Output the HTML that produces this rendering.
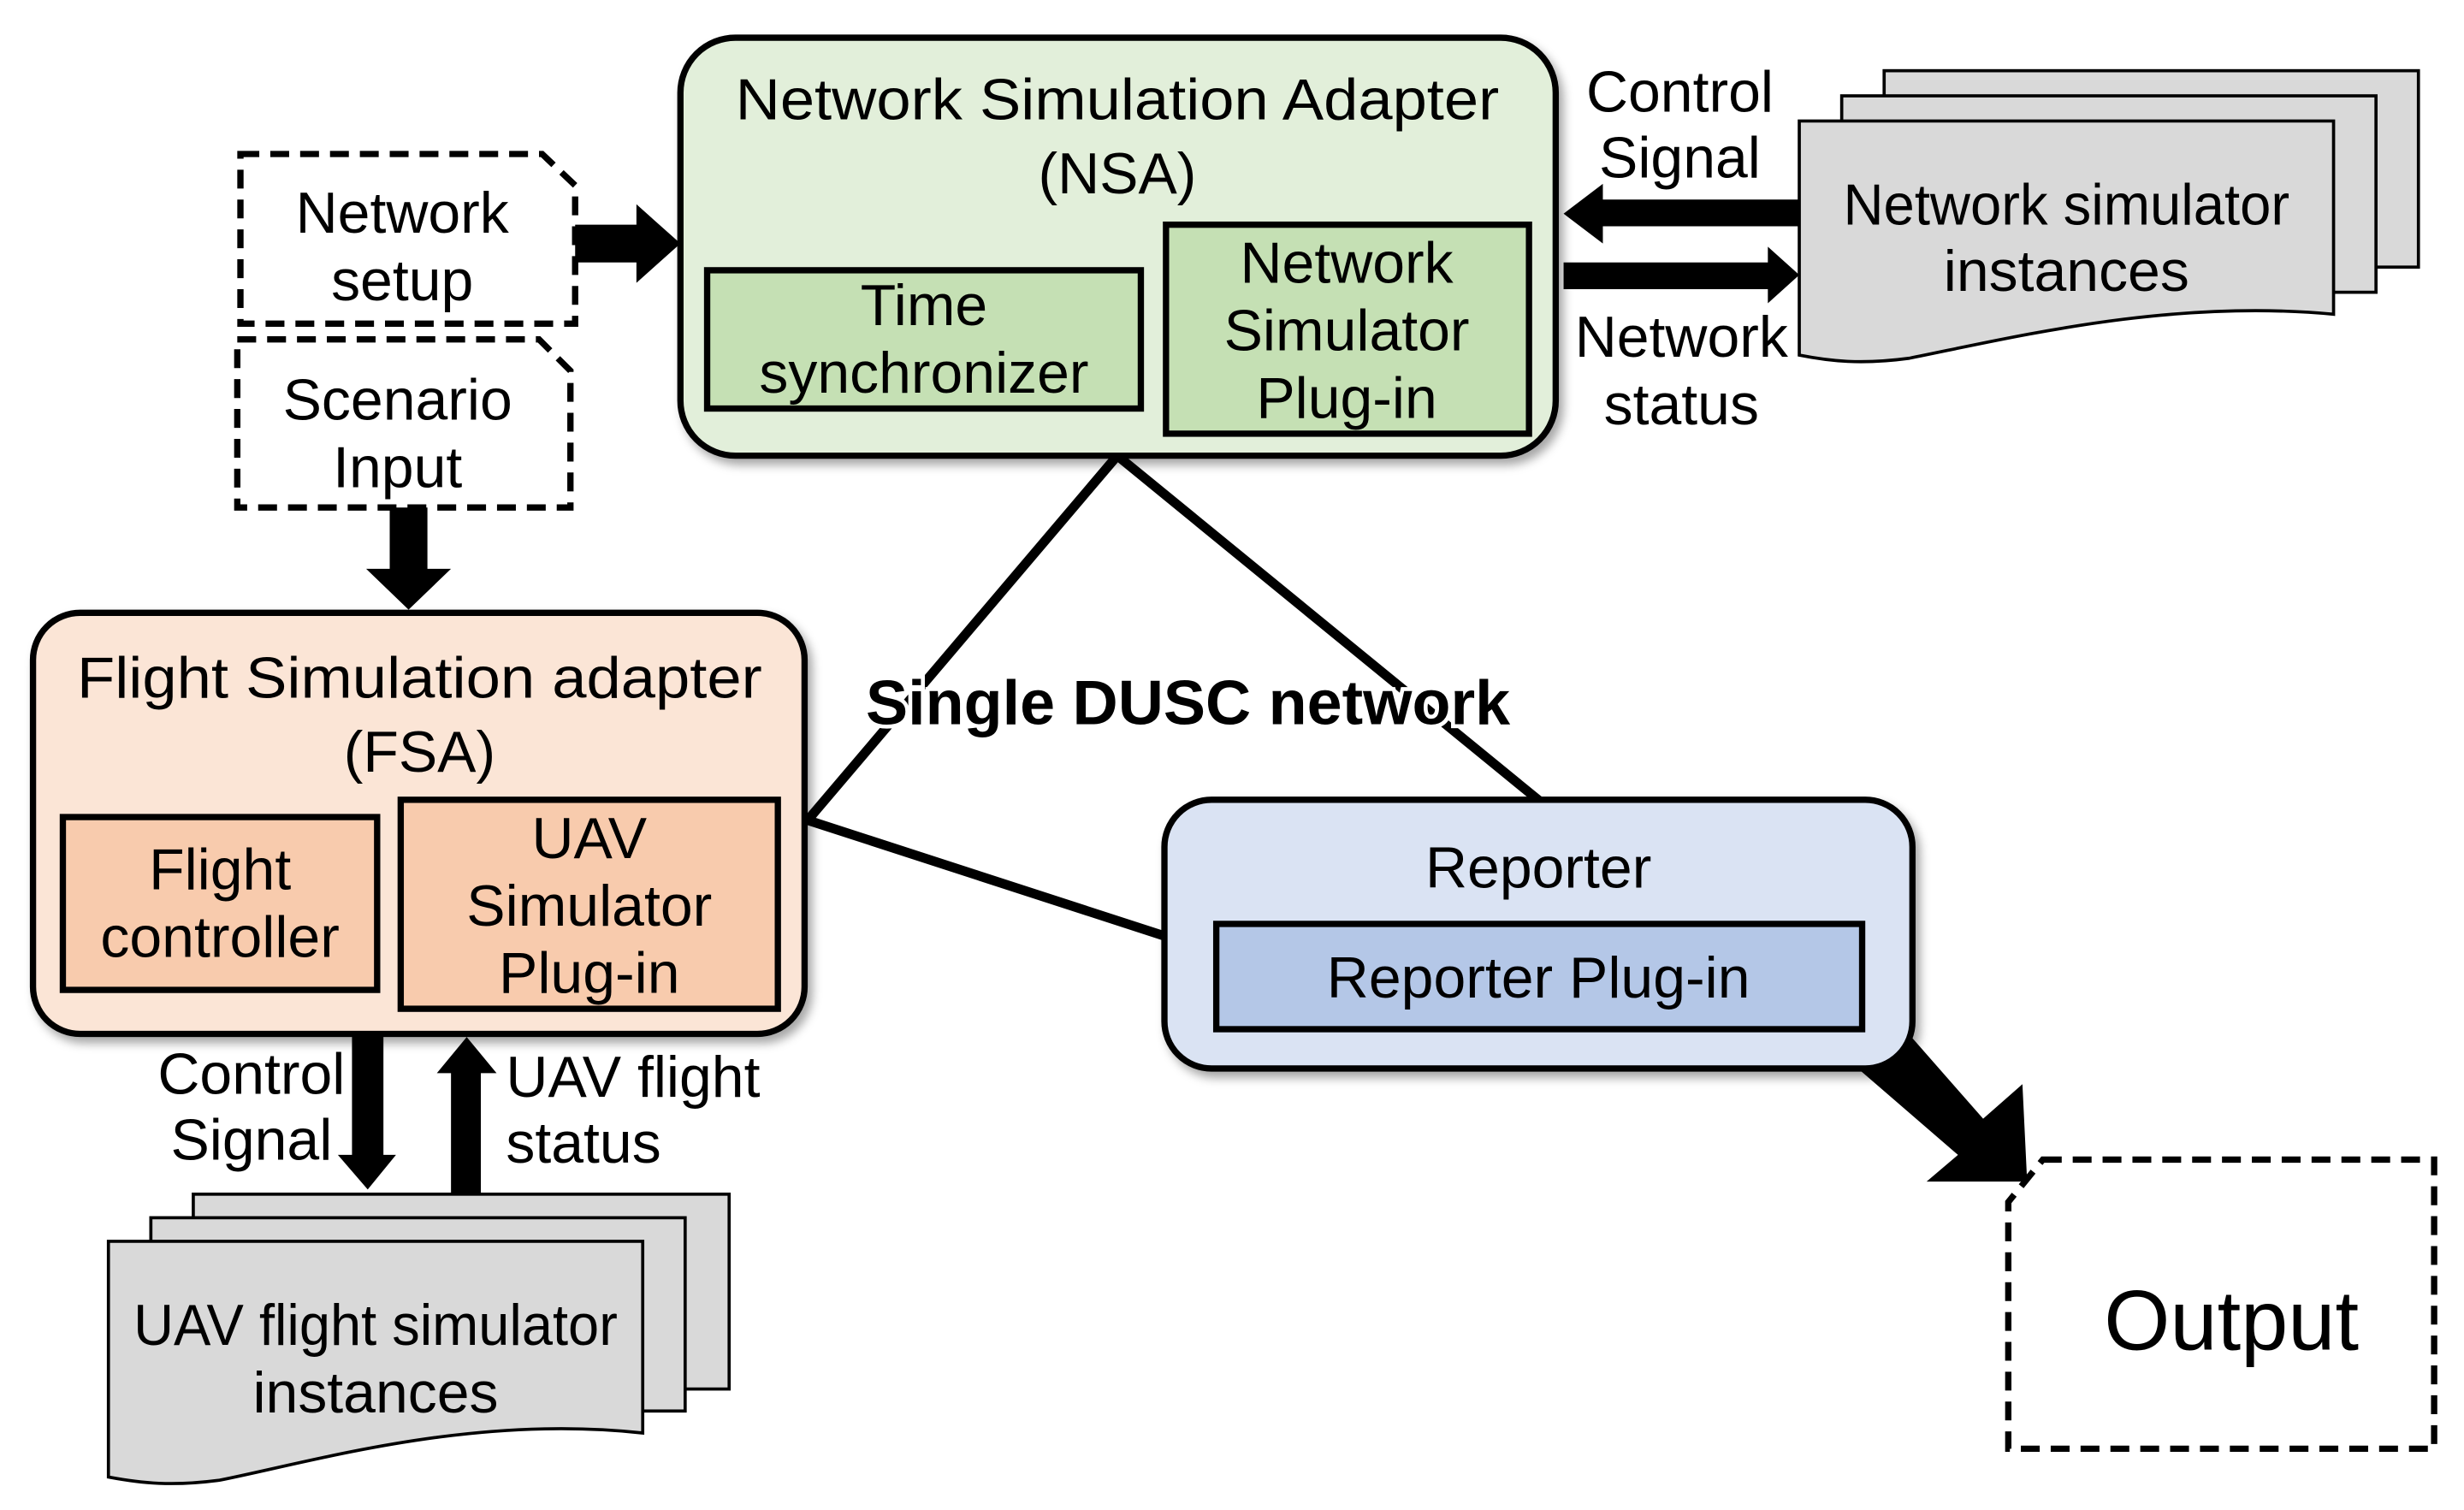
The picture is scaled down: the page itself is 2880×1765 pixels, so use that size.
<!DOCTYPE html>
<html><head><meta charset="utf-8"><style>
html,body{margin:0;padding:0;background:#fff;}
svg{display:block;}
text{font-family:"Liberation Sans",Arial,sans-serif;font-size:37px;fill:#000;text-anchor:middle;}
</style></head><body>
<svg width="2880" height="1765" viewBox="0 0 1568 961" preserveAspectRatio="none" xmlns="http://www.w3.org/2000/svg">
<defs><filter id="sh" x="-10%" y="-10%" width="130%" height="130%"><feDropShadow dx="3" dy="4" stdDeviation="3" flood-color="#000" flood-opacity="0.35"/></filter></defs>
<g stroke="#000" stroke-width="6" fill="none">
<line x1="711" y1="290" x2="514" y2="522"/>
<line x1="711" y1="290" x2="980" y2="510"/>
<line x1="514" y1="522" x2="742" y2="596"/>
</g>
<rect x="433" y="24" width="557" height="266" rx="35" fill="#e2efda" stroke="#000" stroke-width="4" filter="url(#sh)"/>
<text x="711" y="76" textLength="486" lengthAdjust="spacingAndGlyphs">Network Simulation Adapter</text>
<text x="711" y="123">(NSA)</text>
<rect x="450" y="172" width="276" height="88" fill="#c5e0b4" stroke="#000" stroke-width="4"/>
<text x="588" y="207">Time</text>
<text x="588" y="250">synchronizer</text>
<rect x="742" y="143" width="231" height="133" fill="#c5e0b4" stroke="#000" stroke-width="4"/>
<text x="857" y="180">Network</text>
<text x="857" y="223">Simulator</text>
<text x="857" y="266">Plug-in</text>
<g fill="#fff" stroke="#000" stroke-width="4" stroke-dasharray="12,7">
<path d="M153,98 H345 L366,118 V206 H153 Z"/>
<path d="M151,216 H343 L363,236 V323 H151 Z"/>
<path d="M1300,738 H1549 V922 H1278 V765 Z"/>
</g>
<text x="256" y="148">Network</text>
<text x="256" y="191">setup</text>
<text x="253" y="267">Scenario</text>
<text x="253" y="310">Input</text>
<text x="1420" y="859" style="font-size:54px">Output</text>
<g fill="#000">
<polygon points="366,143 405,143 405,130 433,155 405,180 405,167 366,167"/>
<polygon points="248,323 272,323 272,362 287,362 260,388 233,362 248,362"/>
<polygon points="224,658 244,658 244,735 252,735 234,757 215,735 224,735"/>
<polygon points="287,760 306,760 306,683 316,683 297,660 278,683 287,683"/>
<polygon points="1145,127 1020,127 1020,117 995,136 1020,155 1020,144 1145,144"/>
<polygon points="995,167 1125,167 1125,157 1145,175 1125,193 1125,184 995,184"/>
<polygon points="1180,678 1212,655 1262,712 1287,690 1290,752 1226,752 1246,735"/>
</g>
<rect x="21" y="390" width="491" height="268" rx="30" fill="#fbe5d6" stroke="#000" stroke-width="4" filter="url(#sh)"/>
<text x="267" y="444" textLength="436" lengthAdjust="spacingAndGlyphs">Flight Simulation adapter</text>
<text x="267" y="491">(FSA)</text>
<rect x="40" y="520" width="200" height="110" fill="#f8cbad" stroke="#000" stroke-width="4"/>
<text x="140" y="566">Flight</text>
<text x="140" y="609">controller</text>
<rect x="255" y="509" width="240" height="133" fill="#f8cbad" stroke="#000" stroke-width="4"/>
<text x="375" y="546">UAV</text>
<text x="375" y="589">Simulator</text>
<text x="375" y="632">Plug-in</text>
<rect x="741" y="509" width="476" height="171" rx="30" fill="#dae3f3" stroke="#000" stroke-width="4" filter="url(#sh)"/>
<text x="979" y="565">Reporter</text>
<rect x="774" y="588" width="411" height="67" fill="#b4c7e7" stroke="#000" stroke-width="4"/>
<text x="979" y="635">Reporter Plug-in</text>
<text x="756" y="461" textLength="410" lengthAdjust="spacingAndGlyphs" style="font-weight:bold;font-size:40px;paint-order:stroke;stroke:#fff;stroke-width:5px">Single DUSC network</text>
<text x="1069" y="71">Control</text>
<text x="1069" y="113">Signal</text>
<text x="1070" y="227">Network</text>
<text x="1070" y="270">status</text>
<text x="160" y="696">Control</text>
<text x="160" y="738">Signal</text>
<text x="322" y="698" style="text-anchor:start">UAV flight</text>
<text x="322" y="740" style="text-anchor:start">status</text>
<g fill="#d9d9d9" stroke="#000" stroke-width="2">
<rect x="123" y="760" width="341" height="124"/>
<rect x="96" y="775" width="340" height="123"/>
<path d="M69,790 H409 V912 C300,900 200,930 140,942 C110,946 90,944 69,940 Z"/>
<rect x="1199" y="45" width="340" height="125"/>
<rect x="1172" y="61" width="340" height="125"/>
<path d="M1145,77 H1485 V200 C1380,190 1280,215 1215,228 C1185,232 1165,230 1145,226 Z"/>
</g>
<text x="239" y="856" textLength="308" lengthAdjust="spacingAndGlyphs">UAV flight simulator</text>
<text x="239" y="899">instances</text>
<text x="1315" y="143" textLength="284" lengthAdjust="spacingAndGlyphs">Network simulator</text>
<text x="1315" y="185">instances</text>
</svg>
</body></html>
